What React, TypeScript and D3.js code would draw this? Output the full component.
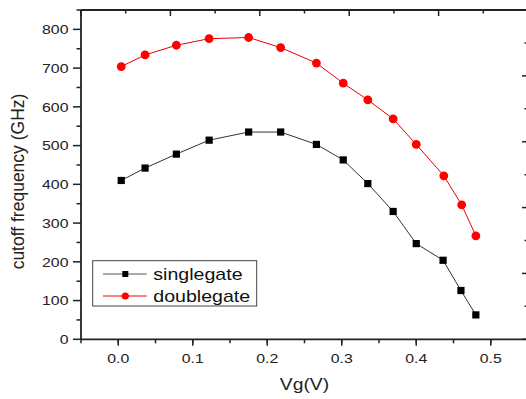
import React from "react";
import * as d3 from "d3";

const vg = [0.004, 0.036, 0.078, 0.122, 0.175, 0.218, 0.266, 0.302, 0.335, 0.369, 0.4, 0.436, 0.46, 0.48];
const singlegate = [410, 442, 478, 514, 535, 535, 503, 463, 402, 330, 247, 204, 126, 63];
const vgDouble = [0.004, 0.036, 0.078, 0.122, 0.175, 0.218, 0.266, 0.302, 0.335, 0.369, 0.4, 0.437, 0.461, 0.48];
const doublegate = [704, 734, 759, 776, 779, 753, 713, 661, 618, 569, 503, 422, 347, 267];
const xTickLabels = [0.0, 0.1, 0.2, 0.3, 0.4, 0.5];
const yTickLabels = [0, 100, 200, 300, 400, 500, 600, 700, 800];
const seriesNames = ["singlegate", "doublegate"];

const W = 526, H = 399;
const L = 81, R = 528, T = 10, B = 339.3;
const FONT = "'Liberation Sans', Arial, sans-serif";
const AX = "#222";
const SX = 1.22;

export default function App() {
  const x = d3.scaleLinear().domain([-0.05, 0.55]).range([L, R]);
  const y = d3.scaleLinear().domain([0, 850]).range([B, T]);
  const topS = d3.scaleLinear().domain([0, 5]).range([L, R]);
  const rightS = d3.scaleLinear().domain([0, 5]).range([B, T]);

  const singleData = vg.map((v, i) => [v, singlegate[i]] as [number, number]);
  const doubleData = vgDouble.map((v, i) => [v, doublegate[i]] as [number, number]);
  const line = d3.line<[number, number]>().x(d => x(d[0])).y(d => y(d[1]));

  const xMinor = d3.range(-0.05, 0.551, 0.05);
  const yMinor = d3.range(50, 851, 100);
  const topMaj = d3.range(0, 5.01, 1);
  const topMin = d3.range(0.5, 5, 1);
  const rMaj = d3.range(0, 5.01, 1);
  const rMin = d3.range(0.5, 5, 1);

  return (
    <svg width={W} height={H} style={{ position: "absolute", left: 0, top: 0, background: "#fff" }}>
      <rect x={0} y={0} width={W} height={H} fill="#fff" />
      {/* lines */}
      <path d={line(singleData) || ""} fill="none" stroke="#333" strokeWidth={1} />
      <path d={line(doubleData) || ""} fill="none" stroke="#e00" strokeWidth={1} />
      {singleData.map((d, i) => (
        <rect key={"s" + i} x={x(d[0]) - 3.6} y={y(d[1]) - 3.6} width={7.2} height={7.2} fill="#000" />
      ))}
      {doubleData.map((d, i) => (
        <circle key={"d" + i} cx={x(d[0])} cy={y(d[1])} r={4.4} fill="#f00" />
      ))}

      {/* axes frame */}
      <line x1={L} x2={L} y1={T} y2={B} stroke={AX} strokeWidth={1.8} />
      <line x1={L} x2={R} y1={B} y2={B} stroke={AX} strokeWidth={1.8} />
      <line x1={L} x2={R} y1={T} y2={T} stroke={AX} strokeWidth={1.8} />
      <line x1={R} x2={R} y1={T} y2={B} stroke={AX} strokeWidth={1.8} />

      {/* bottom ticks */}
      {xTickLabels.map(v => (
        <g key={"xt" + v}>
          <line x1={x(v)} x2={x(v)} y1={B} y2={B + 6.5} stroke={AX} strokeWidth={1.5} />
          <text transform={`translate(${x(v)},${B + 24}) scale(${SX},1)`} textAnchor="middle" fontFamily={FONT} fontSize={13} fill={AX}>
            {v.toFixed(1)}
          </text>
        </g>
      ))}
      {xMinor.map((v, i) => (
        <line key={"xm" + i} x1={x(v)} x2={x(v)} y1={B} y2={B + 4} stroke={AX} strokeWidth={1.5} />
      ))}

      {/* left ticks */}
      {yTickLabels.map(v => (
        <g key={"yt" + v}>
          <line x1={L - 8} x2={L} y1={y(v)} y2={y(v)} stroke={AX} strokeWidth={1.5} />
          <text transform={`translate(${L - 12.5},${y(v) + 4.7}) scale(${SX},1)`} textAnchor="end" fontFamily={FONT} fontSize={13} fill={AX}>
            {v}
          </text>
        </g>
      ))}
      {yMinor.map((v, i) => (
        <line key={"ym" + i} x1={L - 4.5} x2={L} y1={y(v)} y2={y(v)} stroke={AX} strokeWidth={1.5} />
      ))}

      {/* top ticks (inward) */}
      {topMaj.map((v, i) => (
        <line key={"tM" + i} x1={topS(v)} x2={topS(v)} y1={T} y2={T + 6} stroke={AX} strokeWidth={1.5} />
      ))}
      {topMin.map((v, i) => (
        <line key={"tm" + i} x1={topS(v)} x2={topS(v)} y1={T} y2={T + 3.5} stroke={AX} strokeWidth={1.5} />
      ))}
      {/* right ticks (inward) */}
      {rMaj.map((v, i) => (
        <line key={"rM" + i} x1={R - 6} x2={R} y1={rightS(v)} y2={rightS(v)} stroke={AX} strokeWidth={1.5} />
      ))}
      {rMin.map((v, i) => (
        <line key={"rm" + i} x1={R - 3.5} x2={R} y1={rightS(v)} y2={rightS(v)} stroke={AX} strokeWidth={1.5} />
      ))}

      {/* axis titles */}
      <text transform={`translate(${(L + R) / 2},${390}) scale(1.17,1)`} textAnchor="middle" fontFamily={FONT} fontSize={16.5} fill={AX}>
        Vg(V)
      </text>
      <text transform={`translate(${24},${181.5}) rotate(-90)`} textAnchor="middle" fontFamily={FONT} fontSize={17.5} fill={AX}>
        cutoff frequency (GHz)
      </text>

      {/* legend */}
      <rect x={92.7} y={260.7} width={164} height={45.3} fill="#fff" stroke="#444" strokeWidth={1} />
      <line x1={103} x2={146.7} y1={274} y2={274} stroke="#555" strokeWidth={1} />
      <rect x={125.3 - 3} y={274 - 3} width={6} height={6} fill="#000" />
      <text transform={`translate(153.3,279.5) scale(1.24,1)`} fontFamily={FONT} fontSize={15.8} fill="#111">
        {seriesNames[0]}
      </text>
      <line x1={103} x2={146.7} y1={296} y2={296} stroke="#e00" strokeWidth={1} />
      <circle cx={125.3} cy={296} r={3.6} fill="#f00" />
      <text transform={`translate(153.3,301.5) scale(1.24,1)`} fontFamily={FONT} fontSize={15.8} fill="#111">
        {seriesNames[1]}
      </text>
    </svg>
  );
}
